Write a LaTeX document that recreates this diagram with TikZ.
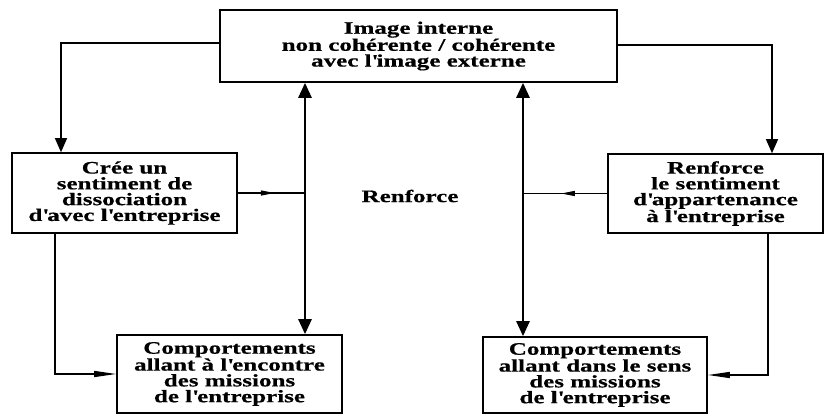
\documentclass[tikz,border=0pt]{standalone}
\usepackage{fontspec}
\setmainfont{Liberation Serif}[FakeStretch=1.43,BoldFeatures={FakeBold=0.6}]
\usetikzlibrary{arrows.meta,decorations.markings}
\newcommand{\ap}{\textquotesingle}
\begin{document}
\begin{tikzpicture}[x=1pt,y=-1pt,
  txt/.style={font=\fontsize{17.5}{15.8}\selectfont\bfseries},
  box/.style={txt,draw,line width=1.6pt,inner sep=0pt,align=center},
  link/.style={line width=1.3pt},
  bigtip/.style={-{Triangle[width=12pt,length=14pt]}},
  both/.style={line width=2.6pt,{Triangle[width=13pt,length=15pt]}-{Triangle[width=13pt,length=15pt]}},
  slimtip/.style={-{Triangle[width=6pt,length=22pt]}},
  midtip/.style={postaction={decorate},decoration={markings,
    mark=at position 0.55 with {\arrow{Triangle[width=5pt,length=14pt]}}}}]
\fill[white] (0,0) rectangle (825,415);
\useasboundingbox (0,0) rectangle (825,415);

% boxes
\node[box,minimum width=397pt,minimum height=72pt] (top) at (418.5,46)
  {Image interne\\non cohérente / cohérente\\avec l\ap image externe};
\node[box,minimum width=225pt,minimum height=80pt] (left) at (124.5,193)
  {Crée un\\sentiment de\\dissociation\\d\ap avec l\ap entreprise};
\node[box,minimum width=215pt,minimum height=79pt] (right) at (715.5,193.5)
  {Renforce\\le sentiment\\d\ap appartenance\\à l\ap entreprise};
\node[box,minimum width=225pt,minimum height=78pt] (bl) at (229.5,374)
  {Comportements\\allant à l\ap encontre\\des missions\\de l\ap entreprise};
\node[box,minimum width=224pt,minimum height=76pt] (br) at (595,375)
  {Comportements\\allant dans le sens\\des missions\\de l\ap entreprise};
\node[txt] (mid) at (410,196) {Renforce};

% guide columns for the connectors
\coordinate (xa) at (61,0);
\coordinate (xb) at (772,0);
\coordinate (xc) at (55,0);
\coordinate (xd) at (768,0);
\coordinate (xl) at (305,0);
\coordinate (xr) at (523,0);

% top box feeding the two side boxes
\draw[link,bigtip] ([yshift=3pt]top.west) -| (xa |- left.north);
\draw[link,bigtip] ([yshift=1pt]top.east) -| (xb |- right.north);

% side boxes feeding the behaviour boxes
\draw[link,slimtip] (xc |- left.south) |- (bl.west);
\draw[link,slimtip] (xd |- right.south) |- (br.east);

% two-way reinforcement
\draw[both] (xl |- top.south) -- (xl |- bl.north);
\draw[both] (xr |- top.south) -- (xr |- br.north);

% side boxes joining the two-way links
\draw[link,midtip] (left.east) -- (xl |- left.east);
\draw[link,midtip] (right.west) -- (xr |- right.west);
\end{tikzpicture}
\end{document}
